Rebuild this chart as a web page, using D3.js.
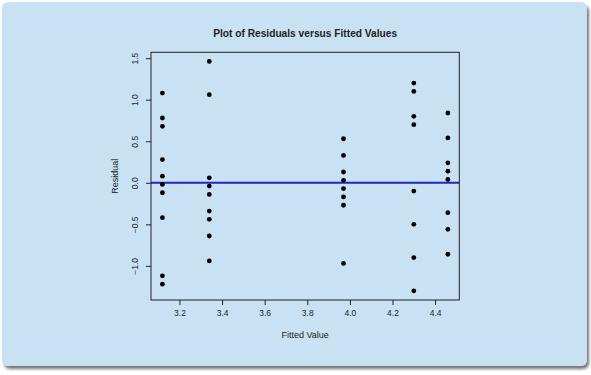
<!DOCTYPE html>
<html>
<head>
<meta charset="utf-8">
<script src="https://cdn.jsdelivr.net/npm/d3@7"></script>
<style>
  html, body { margin: 0; padding: 0; background: #ffffff; }
  svg { display: block; }
  text { font-family: "Liberation Sans", Arial, Helvetica, sans-serif; fill: #222; }
</style>
</head>
<body>
<script>
// fitted values (one per group) and the residuals
const fittedValues = [3.12, 3.34, 3.97, 4.30, 4.46];
const residualsA = [1.08, 0.78, 0.68, 0.28, 0.08, -0.02, -0.12, -0.42, -1.12, -1.22];
const residualsB = [1.46, 1.06, 0.06, -0.04, -0.14, -0.34, -0.44, -0.64, -0.94];
const residualsC = [0.53, 0.33, 0.13, 0.03, -0.07, -0.17, -0.27, -0.97];
const residualsD = [1.20, 1.10, 0.80, 0.70, -0.10, -0.50, -0.90, -1.30];
const residualsE = [0.84, 0.54, 0.24, 0.14, 0.04, -0.36, -0.56, -0.86];
const xTicks = [3.2, 3.4, 3.6, 3.8, 4.0, 4.2, 4.4];
const yTicks = [-1.0, -0.5, 0.0, 0.5, 1.0, 1.5];

const W = 591, H = 375;
const plot = { left: 151, right: 459.3, top: 52.3, bottom: 300 };

const residualGroups = [residualsA, residualsB, residualsC, residualsD, residualsE];
const points = [];
residualGroups.forEach((g, i) => g.forEach(r => points.push({ x: fittedValues[i], y: r })));

// R-style 4% padding around the data range
function padded(ext) {
  const d = (ext[1] - ext[0]) * 0.04;
  return [ext[0] - d, ext[1] + d];
}

const x = d3.scaleLinear()
  .domain(padded(d3.extent(points, d => d.x)))
  .range([plot.left, plot.right]);
const y = d3.scaleLinear()
  .domain(padded(d3.extent(points, d => d.y)))
  .range([plot.bottom, plot.top]);

const svg = d3.select("body").append("svg")
  .attr("width", W)
  .attr("height", H);

const defs = svg.append("defs");
const shadow = defs.append("filter").attr("id", "shadow")
  .attr("x", "-5%").attr("y", "-5%").attr("width", "110%").attr("height", "110%");
shadow.append("feGaussianBlur").attr("in", "SourceAlpha").attr("stdDeviation", 1.5);
shadow.append("feOffset").attr("dx", 2).attr("dy", 3).attr("result", "off");
shadow.append("feComponentTransfer").append("feFuncA").attr("type", "linear").attr("slope", 0.55);
const merge = shadow.append("feMerge");
merge.append("feMergeNode");
merge.append("feMergeNode").attr("in", "SourceGraphic");

// panel
svg.append("rect")
  .attr("x", 2).attr("y", 2)
  .attr("width", 585).attr("height", 364)
  .attr("rx", 6).attr("ry", 6)
  .attr("fill", "#c8e2f4")
  .attr("filter", "url(#shadow)");

// title
svg.append("text")
  .attr("x", (plot.left + plot.right) / 2)
  .attr("y", 36.5)
  .attr("text-anchor", "middle")
  .attr("font-size", 10.2)
  .attr("font-weight", "bold")
  .text("Plot of Residuals versus Fitted Values");

// zero line
svg.append("line")
  .attr("x1", plot.left).attr("x2", plot.right)
  .attr("y1", y(0)).attr("y2", y(0))
  .attr("stroke", "#2323c8")
  .attr("stroke-width", 2);

// points
svg.append("g")
  .selectAll("circle")
  .data(points)
  .join("circle")
  .attr("cx", d => x(d.x))
  .attr("cy", d => y(d.y))
  .attr("r", 2.4)
  .attr("fill", "#000");

const fmt = v => d3.format(".1f")(v).replace("-", "\u2212");

// x axis
const xAxis = svg.append("g")
  .attr("transform", `translate(0,${plot.bottom})`)
  .call(d3.axisBottom(x).tickValues(xTicks).tickSize(5).tickPadding(5).tickFormat(fmt));
xAxis.select(".domain").remove();
xAxis.selectAll(".tick line").attr("stroke", "#222");
xAxis.selectAll(".tick text")
  .attr("font-family", "Liberation Sans, Arial, sans-serif")
  .attr("font-size", 8.5).attr("fill", "#222");

// y axis, labels parallel to the axis
const yAxis = svg.append("g")
  .attr("transform", `translate(${plot.left},0)`)
  .call(d3.axisLeft(y).tickValues(yTicks).tickSize(5).tickFormat(fmt));
yAxis.select(".domain").remove();
yAxis.selectAll(".tick line").attr("stroke", "#222");
yAxis.selectAll(".tick text")
  .attr("font-family", "Liberation Sans, Arial, sans-serif")
  .attr("font-size", 8.5).attr("fill", "#222")
  .attr("x", null).attr("dy", null)
  .attr("text-anchor", "middle")
  .attr("transform", "translate(-13,0) rotate(-90)");

// box
svg.append("rect")
  .attr("x", plot.left).attr("y", plot.top)
  .attr("width", plot.right - plot.left)
  .attr("height", plot.bottom - plot.top)
  .attr("fill", "none")
  .attr("stroke", "#222")
  .attr("stroke-width", 1);

// axis titles
svg.append("text")
  .attr("x", (plot.left + plot.right) / 2)
  .attr("y", 337.5)
  .attr("text-anchor", "middle")
  .attr("font-size", 9)
  .text("Fitted Value");

svg.append("text")
  .attr("transform", `translate(117.5,${(plot.top + plot.bottom) / 2}) rotate(-90)`)
  .attr("text-anchor", "middle")
  .attr("font-size", 9)
  .text("Residual");
</script>
</body>
</html>
